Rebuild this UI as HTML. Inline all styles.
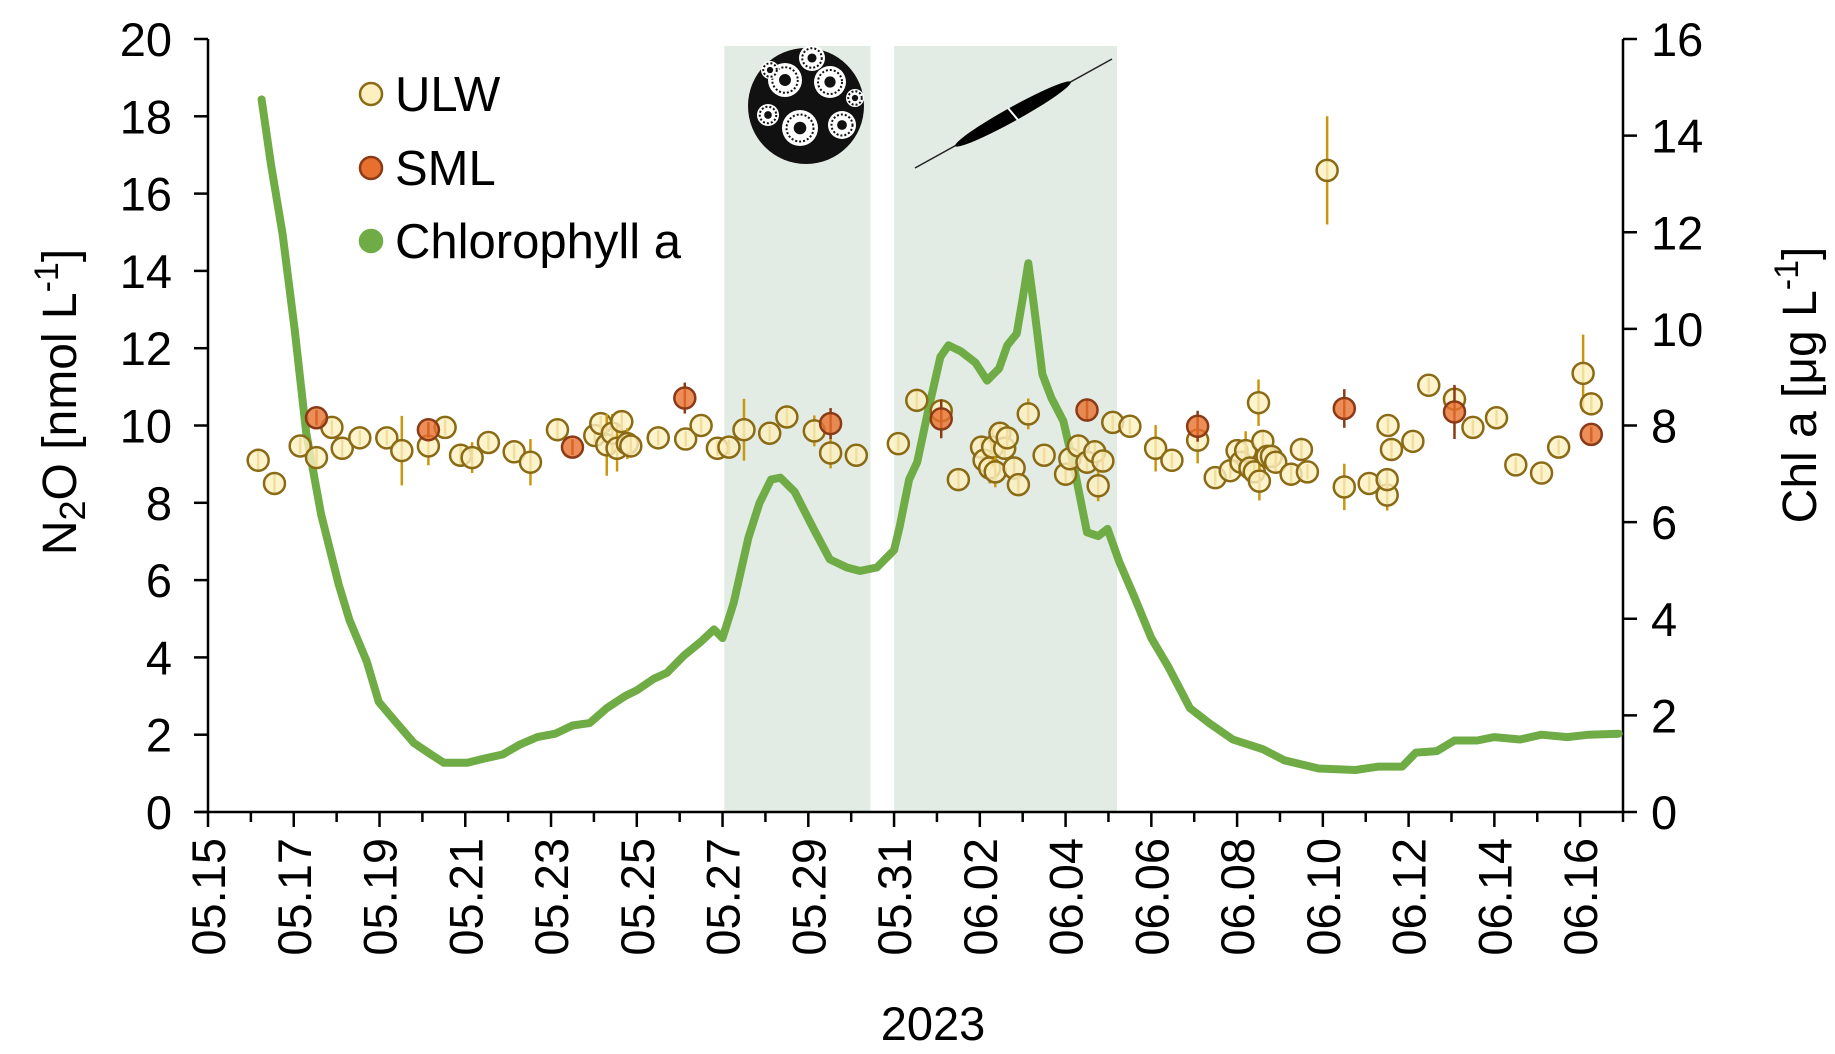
<!DOCTYPE html>
<html><head><meta charset="utf-8"><style>
html,body{margin:0;padding:0;background:#fff}
svg{display:block;font-family:"Liberation Sans",Arial,sans-serif}
</style></head><body>
<svg id="chart" width="1835" height="1054" viewBox="0 0 1835 1054">
<g id="bg"></g><g id="axes"></g><g id="chl"></g><g id="pts"></g><g id="deco"></g>
</svg>
<script>
const NS="http://www.w3.org/2000/svg";
const xTickLabels=["05.15","05.17","05.19","05.21","05.23","05.25","05.27","05.29","05.31","06.02","06.04","06.06","06.08","06.10","06.12","06.14","06.16"];
const leftTicks=[0,2,4,6,8,10,12,14,16,18,20];
const rightTicks=[0,2,4,6,8,10,12,14,16];
const shadeStart=[12.04,16.0];
const shadeEnd=[15.45,21.2];
const chlDay=[1.25,1.47,1.74,2.02,2.29,2.64,3.05,3.3,3.7,3.98,4.4,4.8,5.2,5.5,6.05,6.46,6.87,7.28,7.68,8.1,8.5,8.9,9.3,9.73,10.0,10.4,10.7,11.1,11.5,11.8,12.0,12.26,12.6,12.86,13.13,13.35,13.68,14.1,14.5,14.9,15.2,15.6,16.0,16.13,16.35,16.54,16.8,17.08,17.27,17.55,17.9,18.17,18.45,18.64,18.86,19.0,19.13,19.26,19.46,19.67,19.95,20.2,20.5,20.76,20.98,21.25,21.6,22.0,22.4,22.9,23.35,23.9,24.6,25.1,25.9,26.76,27.3,27.85,28.17,28.66,29.07,29.6,30.0,30.6,31.1,31.7,32.2,32.9];
const chlVal=[14.75,13.4,11.96,10.0,7.85,6.15,4.7,3.97,3.12,2.28,1.84,1.43,1.19,1.02,1.02,1.11,1.19,1.4,1.55,1.62,1.79,1.84,2.15,2.4,2.52,2.76,2.88,3.24,3.53,3.78,3.6,4.33,5.67,6.39,6.88,6.92,6.63,5.9,5.23,5.06,4.99,5.06,5.42,5.9,6.88,7.24,8.33,9.42,9.66,9.54,9.3,8.93,9.18,9.66,9.9,10.63,11.36,10.5,9.06,8.57,8.09,7.12,5.79,5.71,5.86,5.18,4.46,3.6,3.0,2.15,1.84,1.5,1.3,1.07,0.9,0.87,0.94,0.94,1.23,1.26,1.48,1.48,1.55,1.5,1.6,1.55,1.6,1.62];
const ulwDay=[1.17,1.55,2.15,2.53,2.89,3.13,3.54,4.17,4.52,5.14,5.53,5.89,6.16,6.54,7.14,7.52,8.15,9.02,9.16,9.3,9.43,9.54,9.65,9.78,9.86,10.5,11.14,11.5,11.88,12.15,12.5,13.1,13.5,14.14,14.52,15.12,16.1,16.53,17.1,17.5,18.04,18.1,18.23,18.3,18.36,18.47,18.58,18.64,18.8,18.9,19.13,19.5,20.0,20.1,20.3,20.5,20.68,20.76,20.87,21.1,21.5,22.1,22.48,23.08,23.49,23.84,24.0,24.09,24.2,24.3,24.4,24.5,24.52,24.6,24.7,24.8,24.9,25.26,25.5,25.64,26.1,26.5,27.08,27.5,27.5,27.52,27.6,28.1,28.47,29.07,29.5,30.05,30.5,31.1,31.5,32.07,32.26];
const ulwVal=[9.1,8.5,9.47,9.17,9.95,9.41,9.68,9.68,9.35,9.47,9.95,9.23,9.17,9.56,9.32,9.05,9.89,9.74,10.05,9.5,9.8,9.41,10.1,9.53,9.47,9.68,9.65,10.0,9.41,9.44,9.89,9.8,10.22,9.86,9.29,9.23,9.53,10.65,10.38,8.6,9.44,9.1,8.9,9.44,8.8,9.8,9.41,9.68,8.9,8.47,10.3,9.23,8.74,9.14,9.47,9.05,9.32,8.44,9.08,10.08,9.98,9.41,9.1,9.62,8.65,8.83,9.35,9.05,9.35,8.9,8.8,10.59,8.56,9.59,9.2,9.2,9.05,8.74,9.38,8.8,16.6,8.41,8.5,8.2,8.6,10.0,9.38,9.59,11.04,10.68,9.95,10.2,8.98,8.77,9.44,11.35,10.56];
const ulwErr=[0.3,0.3,0.2,0.3,0.2,0.3,0.2,0.2,0.9,0.5,0.2,0.3,0.4,0.2,0.2,0.6,0.3,0.2,0.2,0.8,0.5,0.6,0.3,0.4,0.3,0.2,0.2,0.2,0.2,0.2,0.8,0.2,0.3,0.4,0.4,0.2,0.2,0.3,0.3,0.3,0.3,0.3,0.4,0.5,0.4,0.3,0.3,0.3,0.3,0.3,0.4,0.2,0.3,0.3,0.3,0.3,0.3,0.4,0.3,0.2,0.2,0.6,0.2,0.6,0.2,0.2,0.3,0.3,0.5,0.3,0.3,0.6,0.5,0.3,0.3,0.3,0.3,0.3,0.3,0.2,1.4,0.6,0.2,0.4,0.3,0.2,0.3,0.2,0.2,0.3,0.2,0.2,0.2,0.2,0.2,1.0,0.3];
const smlDay=[2.53,5.14,8.5,11.12,14.52,17.1,20.5,23.08,26.5,29.07,32.26];
const smlVal=[10.2,9.89,9.44,10.71,10.05,10.17,10.4,9.98,10.44,10.35,9.77];
const smlErr=[0.2,0.2,0.2,0.4,0.4,0.5,0.3,0.4,0.5,0.7,0.2];

const X0=208,X1=1623,Y0=812,Y1=39,DAYS=33;
const xs=d=>X0+d*(X1-X0)/DAYS;
const yl=v=>Y0-v*(Y0-Y1)/20;
const yr=v=>Y0-v*(Y0-Y1)/16;
function mk(tag,attrs,parent,text){const e=document.createElementNS(NS,tag);for(const k in attrs)e.setAttribute(k,attrs[k]);if(text!==undefined)e.textContent=text;document.getElementById(parent).appendChild(e);return e;}

for(let i=0;i<shadeStart.length;i++){
 const r=mk('rect',{x:xs(shadeStart[i]),y:46,width:xs(shadeEnd[i])-xs(shadeStart[i]),height:Y0-46,fill:'#e2ece4'},'bg');
 
 
}
const ax=[[X0,Y1,X0,Y0],[X1,Y1,X1,Y0],[X0-12,Y0,X1,Y0]];
ax.forEach(a=>{const l=mk('line',{x1:a[0],y1:a[1],x2:a[2],y2:a[3],stroke:'#000','stroke-width':2.5},'axes');

});
leftTicks.forEach(v=>{
 mk('line',{x1:X0-14,x2:X0,y1:yl(v),y2:yl(v),stroke:'#000','stroke-width':2.5},'axes');
 const t=mk('text',{x:172,y:yl(v)+17,'text-anchor':'end','font-size':47},'axes',String(v));
 
 
});
rightTicks.forEach(v=>{
 mk('line',{x1:X1,x2:X1+14,y1:yr(v),y2:yr(v),stroke:'#000','stroke-width':2.5},'axes');
 const t=mk('text',{x:1651,y:yr(v)+17,'text-anchor':'start','font-size':47},'axes',String(v));
 
 
});
for(let d=0;d<=DAYS;d++){
 const major=d%2===0;
 mk('line',{x1:xs(d),x2:xs(d),y1:Y0,y2:Y0+(major?15:10),stroke:'#000','stroke-width':2.5},'axes');
}
xTickLabels.forEach((s,i)=>{
 const x=xs(i*2)+17;
 const t=mk('text',{x:x,y:838,'text-anchor':'end','font-size':47,transform:`rotate(-90 ${x} 838)`},'axes',s);
 
 
});
let t=mk('text',{x:933,y:1040,'text-anchor':'middle','font-size':47},'axes','2023');


t=mk('text',{x:76,y:402,'text-anchor':'middle','font-size':48,transform:'rotate(-90 76 402)'},'axes');
t.innerHTML='N<tspan font-size="36" dy="9">2</tspan><tspan dy="-9">O [nmol L</tspan><tspan font-size="34" dy="-18">-1</tspan><tspan dy="18">]</tspan>';


t=mk('text',{x:1816,y:385,'text-anchor':'middle','font-size':48,transform:'rotate(-90 1816 385)'},'axes');
t.innerHTML='Chl a [μg L<tspan font-size="34" dy="-18">-1</tspan><tspan dy="18">]</tspan>';



const pts=chlDay.map((d,i)=>xs(d).toFixed(1)+','+yr(chlVal[i]).toFixed(1)).join(' ');
const pl=mk('polyline',{points:pts,fill:'none',stroke:'#6fac46','stroke-width':8,'stroke-linejoin':'round','stroke-linecap':'round'},'chl');



function series(days,vals,errs,fill,stroke,ecol,name){
 days.forEach((d,i)=>{
  const x=xs(d),y=yl(vals[i]);
  mk('line',{x1:x,x2:x,y1:yl(vals[i]+errs[i]),y2:yl(vals[i]-errs[i]),stroke:ecol,'stroke-width':2.5},'pts');
  const c=mk('circle',{cx:x,cy:y,r:10.5,fill:fill,'fill-opacity':0.8,stroke:stroke,'stroke-width':2.5},'pts');
  
  
 });
}
series(ulwDay,ulwVal,ulwErr,'#fdf0c0','#8a6a14','#c9960e','ulw-point');
series(smlDay,smlVal,smlErr,'#e8702e','#8b3a16','#8b3a16','sml-point');

const leg=[['ULW','#fdf0c0','#8a6a14',94],['SML','#e8702e','#8b3a16',168],['Chlorophyll a','#6fac46','#6fac46',241]];
leg.forEach(l=>{
 const c=mk('circle',{cx:371,cy:l[3],r:11,fill:l[1],stroke:l[2],'stroke-width':2.5},'deco');
 
 
 const tx=mk('text',{x:395,y:l[3]+17,'font-size':49},'deco',l[0]);
 
 
});
const g=mk('g',{},'deco');


g.innerHTML='<circle cx="806" cy="106" r="58" fill="#111"/>'+
[[785,80,17],[830,82,16],[800,128,18],[842,125,14],[768,115,11],[812,58,13],[855,98,9],[770,70,9]].map(p=>`<circle cx="${p[0]}" cy="${p[1]}" r="${p[2]}" fill="#fff"/><circle cx="${p[0]}" cy="${p[1]}" r="${p[2]*0.75}" fill="none" stroke="#111" stroke-width="2" stroke-dasharray="2 2"/><circle cx="${p[0]}" cy="${p[1]}" r="${p[2]*0.35}" fill="#111"/>`).join('');
const g2=mk('g',{},'deco');


g2.innerHTML='<line x1="915" y1="168" x2="1112" y2="59" stroke="#222" stroke-width="1.5"/><ellipse cx="1013" cy="114" rx="66" ry="7" transform="rotate(-29 1013 114)" fill="#000"/><line x1="1008" y1="108" x2="1018" y2="120" stroke="#fff" stroke-width="2"/>';
</script>
</body></html>
